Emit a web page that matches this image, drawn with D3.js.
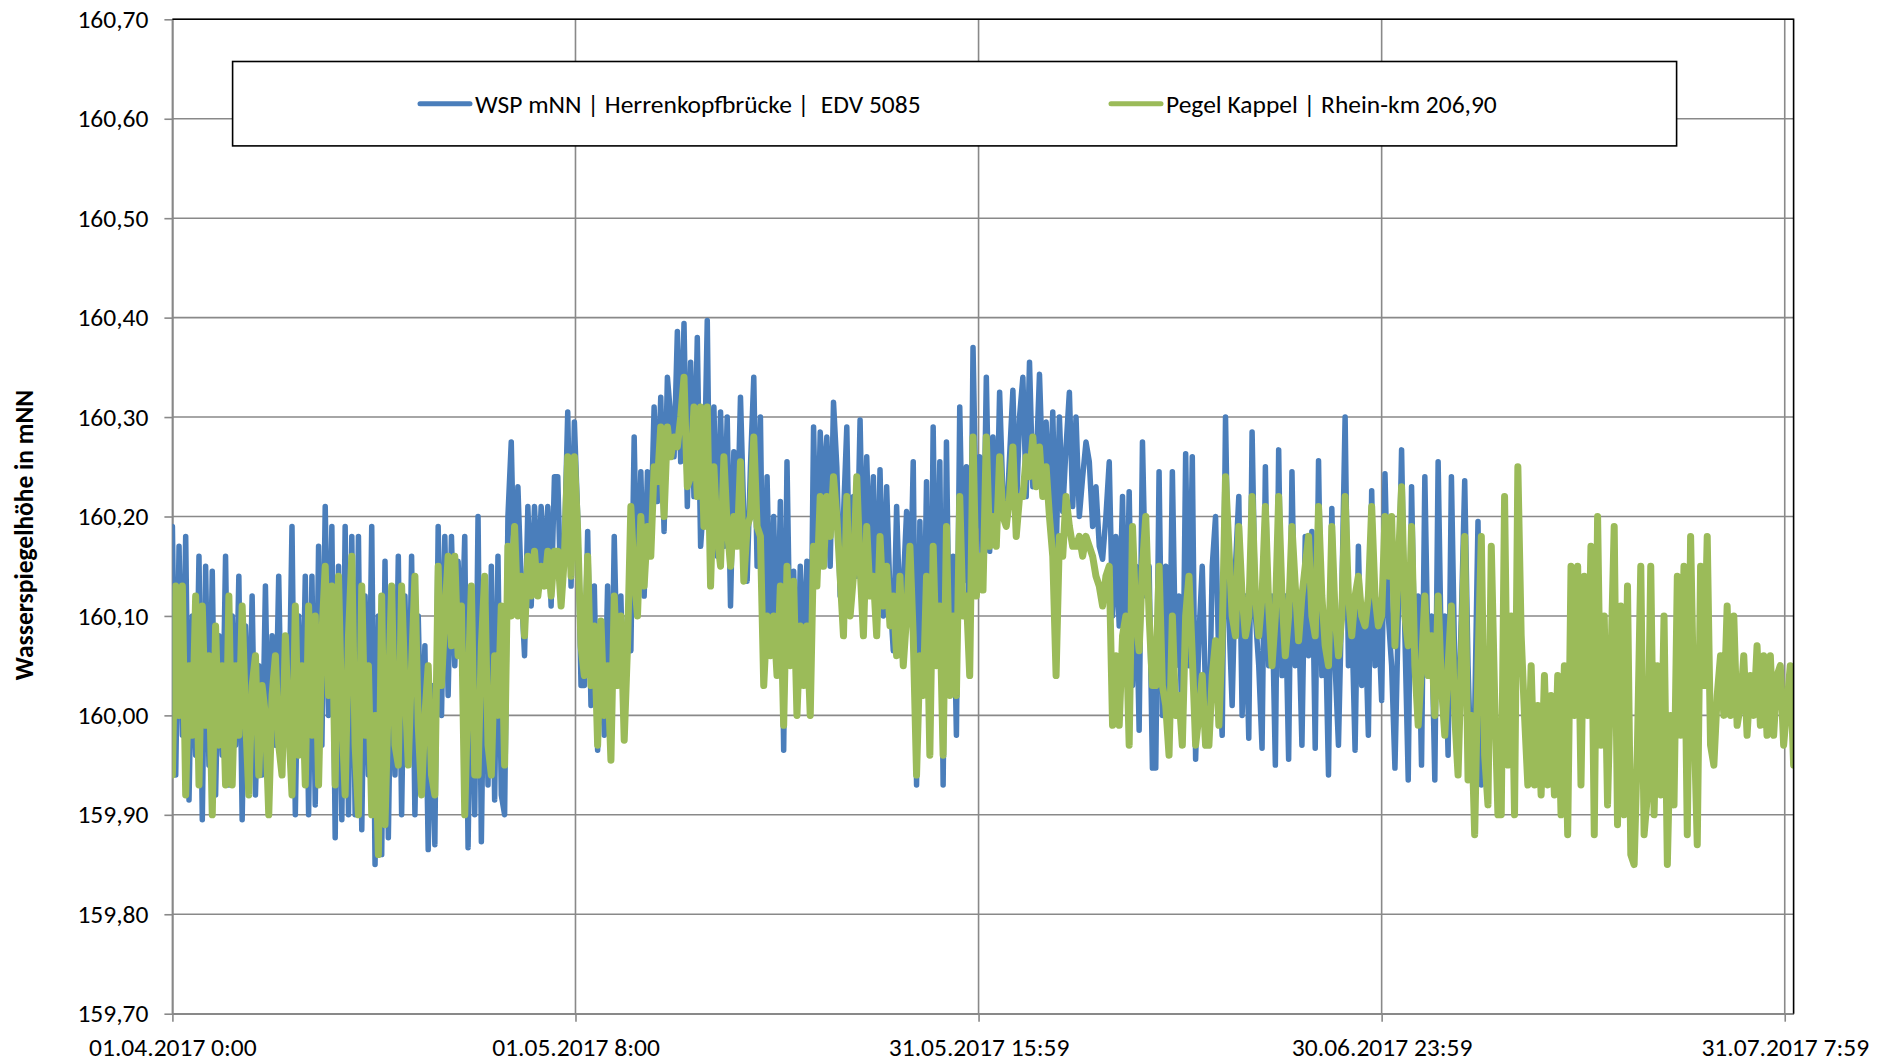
<!DOCTYPE html>
<html><head><meta charset="utf-8">
<script src="https://cdn.jsdelivr.net/npm/d3@7"></script>
<style>body{margin:0;background:#fff} svg text{font-family:Carlito,Calibri,Lato,sans-serif;fill:#000}</style>
</head><body><svg id="c" width="1890" height="1063"></svg>
<script>
// ---- data ----
const startLabel = "01.04.2017 0:00";
const stepHours = 6;
const xDomainLabels = ["01.04.2017 0:00", "01.08.2017 0:00"];
const xTickLabels = ["01.04.2017 0:00", "01.05.2017 8:00", "31.05.2017 15:59", "30.06.2017 23:59", "31.07.2017 7:59"];
const yTicks = [159.70, 159.80, 159.90, 160.00, 160.10, 160.20, 160.30, 160.40, 160.50, 160.60, 160.70];
const seriesNames = ["WSP mNN | Herrenkopfbrücke |  EDV 5085", "Pegel Kappel | Rhein-km 206,90"];
const yTitle = "Wasserspiegelhöhe in mNN";

// WSP Herrenkopfbrücke, 6-hourly values (m NN)
const wspValues = [
160.19,159.94,160.17,159.98, 160.18,159.915,160.10,159.96, 160.16,159.895,160.15,159.95, 160.145,159.92,160.08,159.96,
160.16,159.93,160.10,159.97, 160.14,159.895,160.09,159.96, 160.12,159.92,160.05,159.94, 160.13,159.94,160.08,159.97,
160.14,159.95,160.07,159.98, 160.19,159.90,160.10,159.96, 160.14,159.90,160.14,159.91, 160.17,159.97,160.21,160.00,
160.19,159.877,160.15,159.895, 160.19,159.90,160.18,159.90, 160.18,159.885,160.12,159.94, 160.19,159.85,160.10,159.86,
160.155,159.877,160.10,159.94, 160.16,159.90,160.12,159.95, 160.16,159.90,160.10,159.95, 160.07,159.865,160.03,159.87,
160.19,160.00,160.18,160.02, 160.18,160.05,160.155,160.06, 160.18,159.867,160.10,159.90, 160.20,159.873,160.12,159.93,
160.15,159.915,160.16,159.92, 159.90,160.20,160.275,160.12, 160.23,160.13,160.06,160.21, 160.11,160.21,160.13,160.21,
160.14,160.21,160.11,160.24, 160.24,160.11,160.17,160.305, 160.13,160.295,160.20,160.03, 160.03,160.185,160.01,160.13,
159.965,160.09,159.98,160.13, 159.955,160.18,160.03,160.12, 159.975,160.10,160.065,160.28, 160.10,160.245,160.12,160.245,
160.18,160.31,160.215,160.32, 160.185,160.34,160.30,160.26, 160.386,160.255,160.394,160.21, 160.355,160.22,160.38,160.17,
160.22,160.397,160.13,160.31, 160.16,160.305,160.17,160.30, 160.11,160.265,160.18,160.32, 160.20,160.135,160.25,160.34,
160.15,160.30,160.045,160.24, 160.08,160.20,160.045,160.215, 159.965,160.255,160.05,160.145, 160.01,160.15,160.045,160.155,
160.00,160.29,160.13,160.285, 160.21,160.28,160.15,160.315, 160.25,160.12,160.20,160.29, 160.11,160.22,160.14,160.297,
160.12,160.26,160.14,160.24, 160.08,160.247,160.10,160.23, 160.12,160.065,160.21,160.10, 160.13,160.205,160.10,160.255,
159.93,160.195,160.02,160.235, 159.965,160.29,160.05,160.255, 159.93,160.275,160.03,160.16, 159.98,160.31,160.135,160.25,
160.04,160.37,160.19,160.26, 160.126,160.34,160.165,160.28, 160.17,160.325,160.22,160.19, 160.26,160.327,160.20,160.30,
160.34,160.22,160.355,160.23, 160.25,160.343,160.24,160.295, 160.20,160.305,160.16,160.30, 160.205,160.27,160.325,160.21,
160.30,160.20,160.24,160.275, 160.255,160.19,160.23,160.17, 160.157,160.20,160.255,160.10, 160.18,160.09,160.22,160.04,
160.225,160.03,160.15,159.985, 160.275,160.12,160.15,159.947, 159.947,160.245,160.00,160.15, 160.00,160.245,160.05,160.12,
159.97,160.263,160.05,160.26, 159.956,160.08,160.15,160.02, 159.97,160.15,160.20,160.05, 159.98,160.30,160.10,160.01,
160.15,160.22,160.00,160.12, 159.977,160.285,160.10,160.05, 159.967,160.25,160.05,160.12, 159.95,160.267,160.04,160.12,
159.956,160.245,160.05,160.10, 159.97,160.18,160.06,160.185, 159.967,160.256,160.04,160.10, 159.94,160.208,160.05,159.97,
160.12,160.30,160.05,160.10, 159.965,160.17,160.03,160.10, 159.98,160.226,160.05,160.10, 160.015,160.243,160.10,160.05,
159.947,160.10,160.267,160.08, 159.935,160.23,160.05,160.12, 159.95,160.24,160.05,160.10, 159.935,160.255,160.05,160.10,
159.96,160.24,160.05,159.99, 160.10,160.236,160.05,159.935, 160.00,160.195,159.93
];

// Pegel Kappel, 6-hourly values (m NN)
const pegelValues = [
159.94,160.13,160.00,160.13, 159.92,160.05,159.98,160.12, 159.93,160.11,159.99,160.06, 159.90,160.09,159.97,160.05,
159.93,160.12,159.93,160.05, 159.98,160.11,160.00,159.92, 160.03,160.06,159.94,160.03, 160.00,159.90,160.02,160.06,
159.97,159.94,160.08,159.99, 159.92,160.11,159.96,160.05, 159.93,160.11,159.98,160.10, 159.93,160.08,160.15,160.02,
160.13,159.93,160.14,160.00, 159.92,160.08,160.16,159.97, 159.90,160.13,159.98,160.05, 159.90,160.00,159.86,160.12,
159.89,160.02,160.13,159.97, 159.95,160.13,160.03,159.95, 160.05,160.14,159.99,159.92, 160.00,160.05,159.94,159.92,
160.15,160.03,160.10,160.16, 160.07,160.16,160.06,160.11, 159.90,160.03,160.13,159.94, 159.94,160.07,160.14,159.97,
159.94,160.06,160.00,160.11, 159.95,160.17,160.10,160.19, 160.10,160.14,160.08,160.16, 160.12,160.165,160.12,160.15,
160.13,160.165,160.12,160.165, 160.165,160.11,160.16,160.26, 160.14,160.26,160.185,160.07, 160.04,160.16,160.03,160.09,
159.97,160.095,160.00,160.05, 159.955,160.12,160.03,160.10, 159.975,160.07,160.21,160.14, 160.10,160.20,160.13,160.19,
160.16,160.25,160.235,160.29, 160.20,160.29,160.26,160.28, 160.27,160.30,160.34,160.23, 160.24,160.31,160.22,160.31,
160.19,160.31,160.13,160.25, 160.18,160.15,160.26,160.19, 160.15,160.20,160.17,160.255, 160.135,160.19,160.20,160.28,
160.19,160.18,160.03,160.10, 160.06,160.10,160.04,160.13, 159.99,160.15,160.05,160.135, 160.00,160.09,160.03,160.09,
160.00,160.17,160.13,160.22, 160.15,160.22,160.18,160.24, 160.20,160.14,160.08,160.22, 160.10,160.14,160.24,160.15,
160.08,160.19,160.12,160.14, 160.08,160.18,160.11,160.15, 160.09,160.12,160.06,160.14, 160.05,160.10,160.17,160.08,
159.94,160.06,160.02,160.14, 159.96,160.17,160.05,160.11, 159.96,160.19,160.02,160.10, 160.02,160.22,160.10,160.12,
160.04,160.28,160.12,160.16, 160.126,160.28,160.17,160.20, 160.17,160.26,160.20,160.19, 160.22,160.27,160.18,160.22,
160.22,160.26,160.24,160.28, 160.23,160.27,160.22,160.25, 160.20,160.16,160.04,160.18, 160.16,160.22,160.19,160.17,
160.17,160.18,160.16,160.18, 160.17,160.16,160.14,160.13, 160.11,160.14,160.15,159.99, 160.06,159.99,160.08,160.10,
159.97,160.19,160.10,160.065, 160.15,160.20,160.10,160.03, 160.03,160.15,160.03,160.01, 159.96,160.10,160.00,160.02,
159.97,160.10,160.14,160.06, 159.97,160.00,160.04,159.97, 159.97,160.04,160.075,159.99, 160.08,160.24,160.17,160.10,
160.08,160.19,160.12,160.08, 160.10,160.22,160.12,160.08, 160.12,160.21,160.11,160.05, 160.10,160.22,160.12,160.06,
160.10,160.19,160.13,160.075, 160.12,160.15,160.18,160.10, 160.08,160.21,160.12,160.07, 160.05,160.19,160.10,160.06,
160.10,160.22,160.12,160.08, 160.12,160.14,160.10,160.09, 160.12,160.21,160.12,160.09, 160.10,160.20,160.14,160.20,
160.07,160.15,160.23,160.10, 160.07,160.19,160.05,159.99, 160.05,160.12,160.04,160.08, 160.00,160.12,160.03,159.98,
160.05,160.11,160.00,159.94, 160.06,160.18,159.935,160.00, 159.88,160.05,160.18,159.96, 159.91,160.17,160.02,159.90,
159.90,160.22,159.95,160.10, 159.90,160.25,160.08,160.00, 159.93,160.05,159.93,160.01, 159.92,160.04,159.93,160.02,
159.92,160.04,159.90,160.05, 159.88,160.15,160.00,160.15, 159.93,160.14,160.00,160.17, 159.88,160.20,159.97,160.10,
159.91,160.05,160.19,159.89, 160.11,159.90,160.13,159.86, 159.85,159.97,160.15,159.88, 159.92,160.15,159.90,160.05,
159.92,160.10,159.85,160.00, 159.91,160.14,159.98,160.15, 159.88,160.18,160.00,159.87, 160.15,160.03,160.18,159.97,
159.95,160.02,160.06,160.00, 160.11,160.00,160.10,159.99, 160.01,160.06,159.98,160.04, 160.00,160.07,159.99,160.06,
159.98,160.06,159.98,160.04, 160.05,159.97,160.01,160.05, 159.95
];

// ---- drawing ----
const svg = d3.select("#c");
const plot = {left: 172.4, right: 1793.6, top: 19.3, bottom: 1013.7};
const gridColor = "#898989";
const blue = "#4a7ebb", green = "#9bbb59";
const fontSize = 25.5;
const parse = d3.utcParse("%d.%m.%Y %H:%M");
const t0 = parse(startLabel);
const x = d3.scaleUtc().domain(xDomainLabels.map(parse)).range([plot.left, plot.right]);
const y = d3.scaleLinear().domain([159.7, 160.7]).range([plot.bottom, plot.top]);
const timeAt = i => new Date(t0.getTime() + i * stepHours * 3600e3);
const xTickDates = xTickLabels.map(parse);

// horizontal gridlines
svg.append("g").selectAll("line").data(yTicks).join("line")
  .attr("x1", plot.left).attr("x2", plot.right)
  .attr("y1", d => y(d)).attr("y2", d => y(d))
  .attr("stroke", gridColor).attr("stroke-width", 1.6);
// vertical gridlines
svg.append("g").selectAll("line").data(xTickDates).join("line")
  .attr("x1", d => x(d)).attr("x2", d => x(d))
  .attr("y1", plot.top).attr("y2", plot.bottom)
  .attr("stroke", gridColor).attr("stroke-width", 1.6);

// axes
const fmtY = d => d.toFixed(2).replace(".", ",");
const gy = svg.append("g").attr("transform", `translate(${plot.left},0)`)
  .call(d3.axisLeft(y).tickValues(yTicks).tickSize(8).tickSizeOuter(0).tickPadding(16).tickFormat(fmtY));
const gx = svg.append("g").attr("transform", `translate(0,${plot.bottom})`)
  .call(d3.axisBottom(x).tickValues(xTickDates).tickSize(8).tickSizeOuter(0).tickPadding(16).tickFormat((d, i) => xTickLabels[i]));
[gy, gx].forEach(g => {
  g.select(".domain").attr("stroke", gridColor).attr("stroke-width", 1.6);
  g.selectAll(".tick line").attr("stroke", gridColor).attr("stroke-width", 1.6);
  g.selectAll("text").attr("font-size", fontSize).attr("fill", "#000")
    .style("font-family", "Carlito,Calibri,Lato,sans-serif");
});

// series
svg.append("clipPath").attr("id", "pc").append("rect")
  .attr("x", plot.left).attr("y", plot.top - 6)
  .attr("width", plot.right - plot.left).attr("height", plot.bottom - plot.top + 6);
const line = d3.line().x((d, i) => x(timeAt(i))).y(d => y(d));
svg.append("path").datum(wspValues).attr("d", line).attr("clip-path", "url(#pc)")
  .attr("fill", "none").attr("stroke", blue).attr("stroke-width", 5.5)
  .attr("stroke-linejoin", "round").attr("stroke-linecap", "round");
svg.append("path").datum(pegelValues).attr("d", line).attr("clip-path", "url(#pc)")
  .attr("fill", "none").attr("stroke", green).attr("stroke-width", 7)
  .attr("stroke-linejoin", "round").attr("stroke-linecap", "round");

// plot border (top and right)
svg.append("path").attr("d", `M${plot.left},${plot.top}H${plot.right}V${plot.bottom}`)
  .attr("fill", "none").attr("stroke", "#000").attr("stroke-width", 1.6);

// legend
const lg = svg.append("g");
lg.append("rect").attr("x", 232.6).attr("y", 61.5).attr("width", 1444).attr("height", 84.4)
  .attr("fill", "#fff").attr("stroke", "#000").attr("stroke-width", 1.6);
const legendItems = [
  {name: seriesNames[0], color: blue, x1: 420, x2: 470, tx: 475},
  {name: seriesNames[1], color: green, x1: 1111, x2: 1161, tx: 1166}
];
legendItems.forEach(it => {
  lg.append("line").attr("x1", it.x1).attr("x2", it.x2).attr("y1", 103.7).attr("y2", 103.7)
    .attr("stroke", it.color).attr("stroke-width", 5).attr("stroke-linecap", "round");
  lg.append("text").attr("x", it.tx).attr("y", 103.7).attr("dy", "0.35em")
    .attr("font-size", fontSize).attr("xml:space", "preserve").style("white-space", "pre").text(it.name);
});

// y-axis title
svg.append("text").attr("transform", "translate(24,535) rotate(-90)")
  .attr("text-anchor", "middle").attr("dy", "0.35em")
  .attr("font-size", fontSize).attr("font-weight", "bold").text(yTitle);
</script></body></html>
